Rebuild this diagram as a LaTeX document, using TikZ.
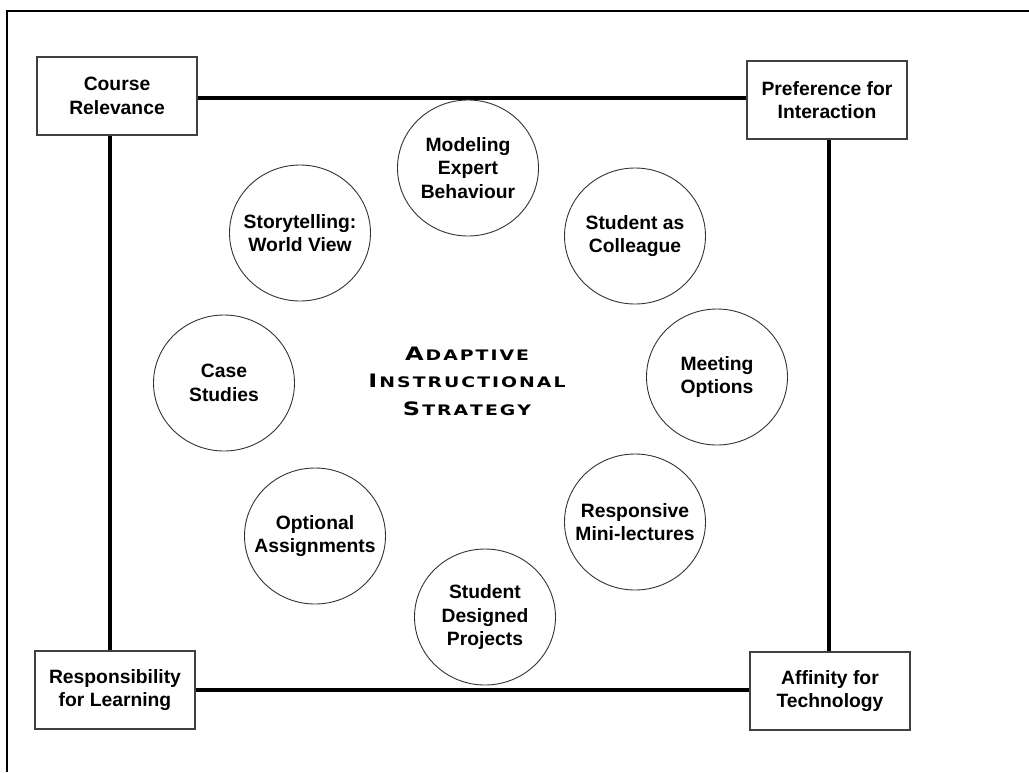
\documentclass[tikz,border=0pt]{standalone}
\usepackage{fontspec}
\setmainfont{Liberation Sans}
\newfontfamily\cpfont{DejaVu Sans}[FakeStretch=1.3]
\usetikzlibrary{shapes.geometric}
\newcommand\cpbig[1]{{\fontsize{18.5}{27.5}\selectfont #1}}
\newcommand\lk{\kern2pt}
\begin{document}
\begin{tikzpicture}[x=1pt,y=-1pt,
  lbl/.style={font=\fontsize{19.3}{23.5}\selectfont\bfseries, align=center},
  boxnode/.style={lbl, draw=black!75, line width=1.2pt, rectangle, minimum width=160pt, minimum height=78pt, inner sep=0pt},
  circnode/.style={draw=black!80, line width=0.9pt, ellipse, minimum width=141pt, minimum height=136pt, inner sep=0pt},
  conn/.style={line width=4.2pt},
  frame/.style={line width=2pt},
  titletext/.style={font=\cpfont\bfseries\fontsize{14.5}{27.5}\selectfont, align=center}
]
\useasboundingbox (0,0) rectangle (1029,772);
% outer frame (only top and left visible)
\draw[frame] (7,772) -- (7,11) -- (1029,11);

% corner boxes
\node[boxnode] (cr) at (117,96) {Course\\Relevance};
\node[boxnode] (pi) at (827,100) {Preference for\\Interaction};
\node[boxnode] (rf) at (115,690) {Responsibility\\for Learning};
\node[boxnode] (at) at (830,691) {Affinity for\\Technology};

% connectors
\draw[conn] ([yshift=-2pt]cr.east) -- ([yshift=-2pt]cr.east -| pi.west);
\draw[conn] ([xshift=-7pt]cr.south) -- ([xshift=-7pt]cr.south |- rf.north);
\draw[conn] ([xshift=2pt]pi.south) -- ([xshift=2pt]pi.south |- at.north);
\draw[conn] (rf.east) -- (rf.east -| at.west);

% circles
\node[circnode, label={[lbl]center:Modeling\\Expert\\Behaviour}] (meb) at (468,168) {};
\node[circnode, label={[lbl]center:Student as\\Colleague}] (sac) at (635,236) {};
\node[circnode, label={[lbl]center:Meeting\\Options}] (mop) at (717,377) {};
\node[circnode, label={[lbl]center:Responsive\\Mini-lectures}] (rml) at (635,522) {};
\node[circnode, label={[lbl]center:Student\\Designed\\Projects}] (sdp) at (485,617) {};
\node[circnode, label={[lbl]center:Optional\\Assignments}] (oas) at (315,536) {};
\node[circnode, label={[lbl]center:Case\\Studies}] (cs) at (224,383) {};
\node[circnode, label={[lbl]center:Storytelling:\\World View}] (swv) at (300,233) {};

% central title
\node[titletext] (ais) at (467,381) {%
\cpbig{A}\lk D\lk A\lk P\lk T\lk I\lk V\lk E\\
\cpbig{I}\lk N\lk S\lk T\lk R\lk U\lk C\lk T\lk I\lk O\lk N\lk A\lk L\\
\cpbig{S}\lk T\lk R\lk A\lk T\lk E\lk G\lk Y};
\end{tikzpicture}
\end{document}
